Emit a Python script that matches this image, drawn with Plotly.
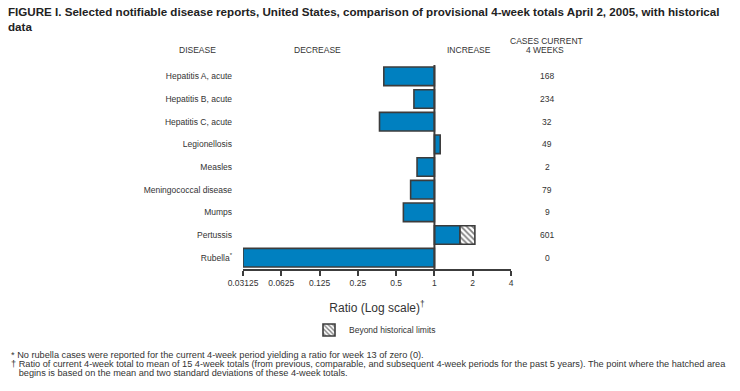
import math
import plotly.graph_objects as go

# ---- data ----
diseases = ["Hepatitis A, acute", "Hepatitis B, acute", "Hepatitis C, acute", "Legionellosis",
            "Measles", "Meningococcal disease", "Mumps", "Pertussis", "Rubella<sup>*</sup>"]
ratios = [0.40, 0.69, 0.37, 1.11, 0.73, 0.65, 0.57, 1.59, 0.03125]
beyond_limit_end = [None, None, None, None, None, None, None, 2.08, None]
cases_current = ["168", "234", "32", "49", "2", "79", "9", "601", "0"]
tick_vals = [0.03125, 0.0625, 0.125, 0.25, 0.5, 1, 2, 4]
tick_text = ["0.03125", "0.0625", "0.125", "0.25", "0.5", "1", "2", "4"]

W, H = 740, 391
ML, MR, MT, MB = 243, 229, 65, 122
PW = W - ML - MR
PH = H - MT - MB

def px_x(px):
    return (px - ML) / PW

def px_y(py):
    return (H - MB - py) / PH

DARK = "#3c3c3c"
TXT = "#333333"
BLUE = "#0080C0"
FONT = "Liberation Sans, Arial, sans-serif"

fig = go.Figure()

fig.add_trace(go.Bar(
    y=diseases, x=[r - 1 for r in ratios], base=1, orientation="h",
    marker=dict(color=BLUE, line=dict(color=DARK, width=1.6)),
    width=0.82, showlegend=False, hoverinfo="skip"))

fig.add_trace(go.Bar(
    y=diseases,
    x=[(e - r) if e is not None else None for e, r in zip(beyond_limit_end, ratios)],
    base=[r if e is not None else None for e, r in zip(beyond_limit_end, ratios)],
    orientation="h", name="Beyond historical limits",
    marker=dict(color="white", line=dict(color=DARK, width=1.6),
                pattern=dict(shape="\\", fgcolor="black", bgcolor="white", size=4, solidity=0.45)),
    width=0.82, showlegend=True, hoverinfo="skip"))

fig.add_shape(type="line", xref="x", yref="paper", x0=1, x1=1, y0=0, y1=1,
              line=dict(color=DARK, width=2))

annotations = []
for d, c in zip(diseases, cases_current):
    annotations.append(dict(x=px_x(547), xref="paper", y=d, yref="y", text=c, showarrow=False,
                            xanchor="center", font=dict(size=8.5, color=TXT, family=FONT)))

headers = [("DISEASE", 197, 50), ("DECREASE", 317, 50), ("INCREASE", 469, 50),
           ("CASES CURRENT", 546, 41), ("4 WEEKS", 545, 50)]
for t, x, y in headers:
    annotations.append(dict(x=px_x(x), xref="paper", y=px_y(y), yref="paper", text=t, showarrow=False,
                            xanchor="center", yanchor="middle", font=dict(size=8.5, color=TXT, family=FONT)))

foot = [("* No rubella cases were reported for the current 4-week period yielding a ratio for week 13 of zero (0).", 355),
        ("\u2020 Ratio of current 4-week total to mean of 15 4-week totals (from previous, comparable, and subsequent 4-week periods for the past 5 years). The point where the hatched area", 364),
        ("   begins is based on the mean and two standard deviations of these 4-week totals.", 373)]
for t, y in foot:
    annotations.append(dict(x=px_x(9), xref="paper", y=px_y(y), yref="paper", text=t, showarrow=False,
                            xanchor="left", yanchor="middle", font=dict(size=9.2, color=TXT, family=FONT)))

fig.update_layout(
    width=W, height=H,
    margin=dict(l=ML, r=MR, t=MT, b=MB, autoexpand=False),
    paper_bgcolor="white", plot_bgcolor="white",
    barmode="overlay",
    title=dict(text="<b>FIGURE I. Selected notifiable disease reports, United States, comparison of provisional 4-week totals April 2, 2005, with historical<br>data</b>",
               x=8 / W, xanchor="left", xref="container", y=1 - 16 / H, yanchor="top", yref="container",
               font=dict(size=11.6, color="#222222", family=FONT)),
    xaxis=dict(type="log", range=[math.log10(0.03125), math.log10(4)],
               tickvals=tick_vals, ticktext=tick_text, showgrid=False, zeroline=False,
               showline=True, linecolor=DARK, linewidth=2, ticks="outside", ticklen=5,
               tickwidth=1.5, tickcolor=DARK, tickfont=dict(size=8.5, color=TXT, family=FONT),
               title=dict(text="Ratio (Log scale)<sup>\u2020</sup>", standoff=23,
                          font=dict(size=12, color=TXT, family=FONT))),
    yaxis=dict(type="category", range=[8.5, -0.5], showgrid=False, zeroline=False, showline=False,
               ticks="", ticklabelstandoff=10, tickfont=dict(size=8.5, color=TXT, family=FONT)),
    legend=dict(xref="container", yref="container", x=309 / W, y=1 - 330 / H, yanchor="middle",
                xanchor="left", orientation="h", font=dict(size=8.5, color=TXT, family=FONT),
                bgcolor="rgba(0,0,0,0)"),
    annotations=annotations,
    showlegend=True,
)

fig.write_html("out.html", config={"displayModeBar": False},
               post_script="document.body.style.margin='0';")
